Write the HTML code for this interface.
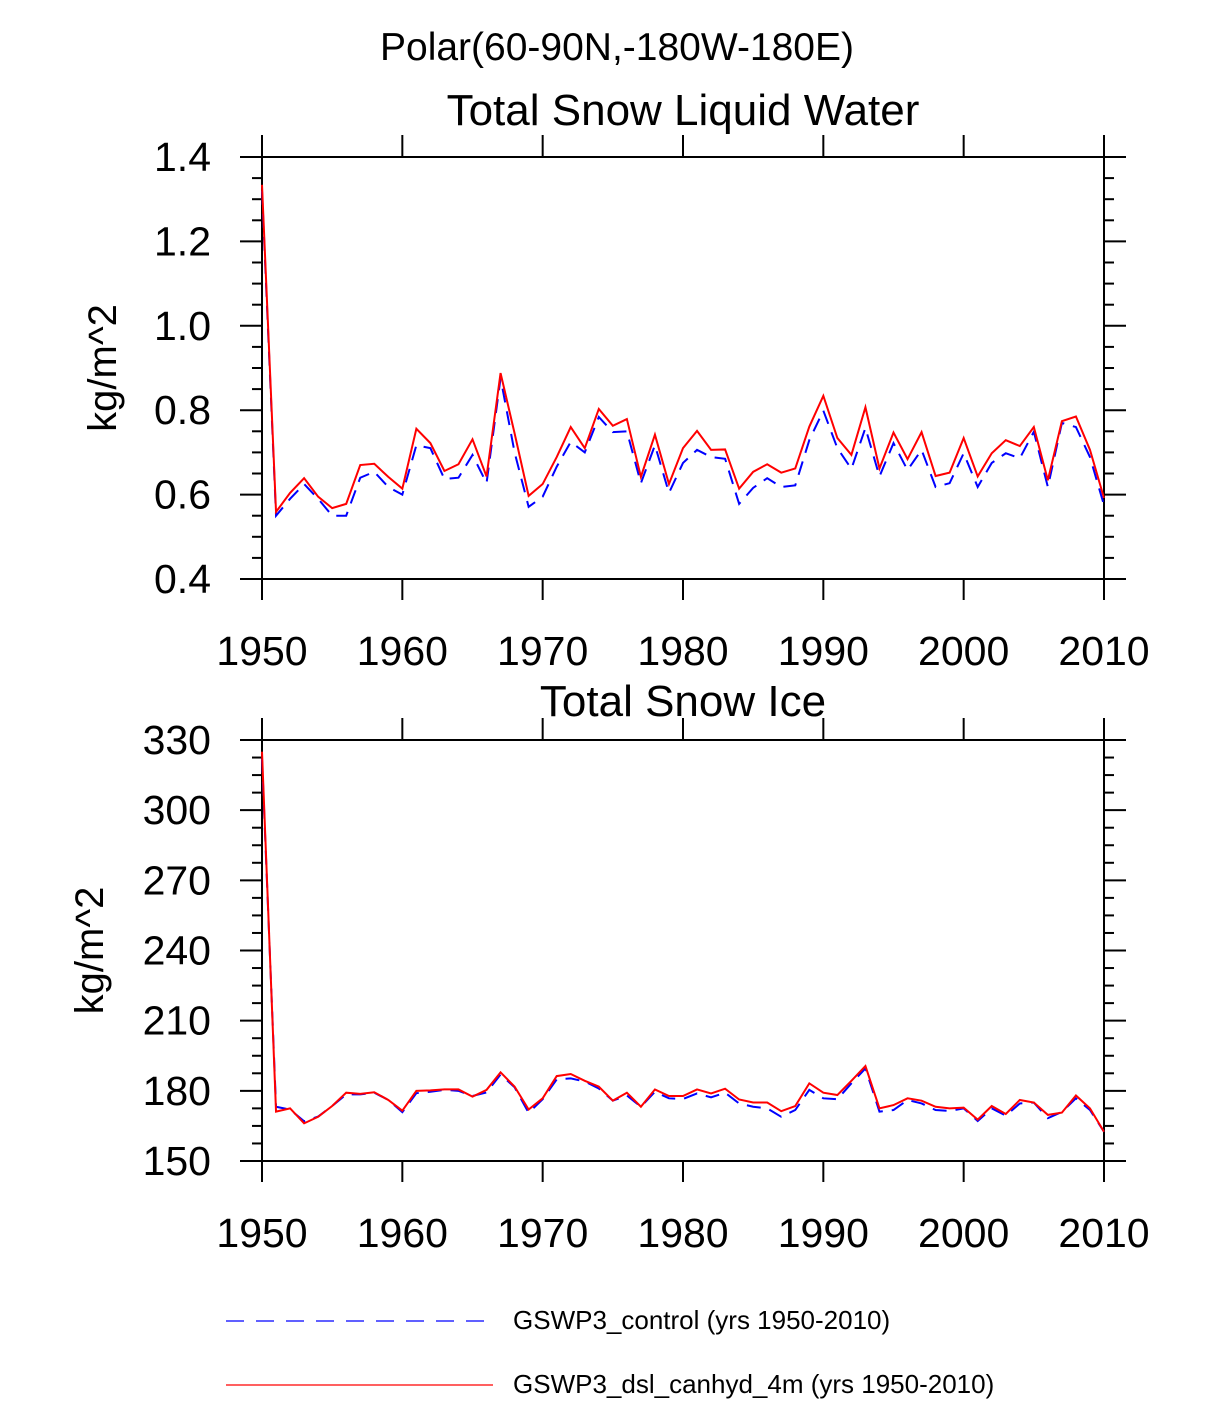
<!DOCTYPE html>
<html><head><meta charset="utf-8"><style>
body{margin:0;background:#fff;}
svg text{font-family:"Liberation Sans",sans-serif;fill:#000;}
</style></head><body>
<svg id="chart" width="1224" height="1400" viewBox="0 0 1224 1400" xmlns="http://www.w3.org/2000/svg">
<text x="617" y="60" font-size="39" text-anchor="middle">Polar(60-90N,-180W-180E)</text>
<g id="p1"></g>
<g id="p2"></g>
<g>
<line x1="226" y1="1321" x2="493" y2="1321" stroke="#0000ff" stroke-width="1.2" stroke-dasharray="18,12"/>
<text x="513" y="1329" font-size="26">GSWP3_control (yrs 1950-2010)</text>
<line x1="226" y1="1385" x2="493" y2="1385" stroke="#ff0000" stroke-width="1.2"/>
<text x="513" y="1393" font-size="26">GSWP3_dsl_canhyd_4m (yrs 1950-2010)</text>
</g>
</svg>
<script>
const years = Array.from({length:61},(_,i)=>1950+i);
const xTicks = [1950,1960,1970,1980,1990,2000,2010];
const lwTicks = [0.4,0.6,0.8,1.0,1.2,1.4];
const lwTickLabels = ["0.4","0.6","0.8","1.0","1.2","1.4"];
const iceTicks = [150,180,210,240,270,300,330];
const lwControl = [1.32,0.55,0.59,0.625,0.59,0.55,0.55,0.64,0.654,0.618,0.60,0.717,0.71,0.637,0.64,0.694,0.627,0.876,0.70,0.571,0.595,0.666,0.725,0.70,0.784,0.748,0.75,0.627,0.717,0.604,0.675,
0.706,0.689,0.685,0.578,0.616,0.639,0.618,0.622,0.729,0.799,0.71,0.661,0.758,0.643,0.722,0.658,0.706,0.618,0.627,0.698,0.618,0.675,0.698,0.686,0.749,0.618,0.77,0.76,0.689,0.575];
const lwDsl = [1.334,0.559,0.604,0.639,0.595,0.568,0.578,0.670,0.673,0.642,0.614,0.756,0.722,0.656,0.672,0.731,0.643,0.888,0.745,0.597,0.625,0.689,0.76,0.71,0.803,0.763,0.779,0.642,0.742,0.625,0.71,
0.751,0.706,0.707,0.614,0.654,0.672,0.652,0.662,0.761,0.834,0.734,0.694,0.807,0.662,0.747,0.684,0.748,0.644,0.652,0.734,0.643,0.698,0.729,0.715,0.76,0.634,0.774,0.785,0.706,0.592];
const iceControl = [322,173.2,172,167,169,173.5,178.5,178.5,179.2,176.1,170.9,179,179.6,180.4,180,177.8,179.3,187,181.5,170.6,176.4,184.9,185.3,184,181,175.8,178,173.2,179.6,176.8,176.5,
178.9,177.2,179.2,174.6,173.2,172.5,168.9,171.8,180.4,176.8,176.4,183.2,189.6,171.1,171.8,176.1,174.6,171.8,171.4,172.5,167.1,172.5,169.4,174.6,175,168.3,171,176.8,171.8,162.5];
const iceDsl = [325,171.1,172.5,166.1,168.9,173.5,179.2,178.7,179.4,176.1,171.5,180,180.2,180.6,180.6,177.5,180.4,187.9,181.8,172,176.8,186.3,187.2,184.3,181.8,175.8,179.2,173.2,180.6,177.8,177.8,
180.6,178.9,180.9,176.3,175,175,171.3,173.5,183.2,179.2,178.2,184.3,190.6,172.5,173.9,176.8,175.8,173.2,172.5,172.8,167.7,173.5,170.1,176.1,175,169.7,170.7,178,172.5,162.5];

const NS="http://www.w3.org/2000/svg";
function mk(parent,tag,attrs){const e=document.createElementNS(NS,tag);for(const k in attrs)e.setAttribute(k,attrs[k]);parent.appendChild(e);return e;}
function panel(g,top,bottom,ymin,ymax,yt,ytl,minorStep,title,titleY,ylabX,ctrl,dsl){
  const L=262,R=1104;
  const xs=v=>L+(v-1950)*(R-L)/60;
  const ys=v=>bottom-(v-ymin)*(bottom-top)/(ymax-ymin);
  const t=mk(g,'text',{x:683,y:titleY,'font-size':44,'text-anchor':'middle'});t.textContent=title;
  
  
  const box=mk(g,'rect',{x:L,y:top,width:R-L,height:bottom-top,fill:'none',stroke:'#000','stroke-width':2});
  
  
  xTicks.forEach(yr=>{const x=xs(yr);
    mk(g,'line',{x1:x,y1:bottom,x2:x,y2:bottom+21,stroke:'#000','stroke-width':2});
    mk(g,'line',{x1:x,y1:top,x2:x,y2:top-22,stroke:'#000','stroke-width':2});
  });
  xTicks.forEach(v=>{const l=mk(g,'text',{x:xs(v),y:bottom+86,'font-size':41,'text-anchor':'middle'});l.textContent=v;
    
    });
  for(let v=ymin;v<=ymax+1e-9;v+=minorStep){
    const y=ys(v);const maj=yt.some(m=>Math.abs(m-v)<1e-6);const len=maj?22:10;
    mk(g,'line',{x1:L,y1:y,x2:L-len,y2:y,stroke:'#000','stroke-width':2});
    mk(g,'line',{x1:R,y1:y,x2:R+len,y2:y,stroke:'#000','stroke-width':2});
  }
  yt.forEach((v,i)=>{const l=mk(g,'text',{x:211,y:ys(v)+14,'font-size':41,'text-anchor':'end'});l.textContent=ytl[i];
    
    });
  const yl=mk(g,'text',{x:ylabX,y:(top+bottom)/2,'font-size':40,'text-anchor':'middle',transform:`rotate(-90 ${ylabX} ${(top+bottom)/2})`});
  yl.textContent='kg/m^2';
  
  
  const pc=mk(g,'polyline',{points:years.map((y,i)=>xs(y)+','+ys(ctrl[i])).join(' '),fill:'none',stroke:'#0000ff','stroke-width':2,'stroke-dasharray':'14,9'});
  
  
  const pd=mk(g,'polyline',{points:years.map((y,i)=>xs(y)+','+ys(dsl[i])).join(' '),fill:'none',stroke:'#ff0000','stroke-width':2});
  
  
}
panel(document.getElementById('p1'),157,579,0.4,1.4,lwTicks,lwTickLabels,0.05,'Total Snow Liquid Water',125,116,lwControl,lwDsl);
panel(document.getElementById('p2'),740,1161,150,330,iceTicks,iceTicks.map(String),7.5,'Total Snow Ice',716,103,iceControl,iceDsl);
</script>
</body></html>
